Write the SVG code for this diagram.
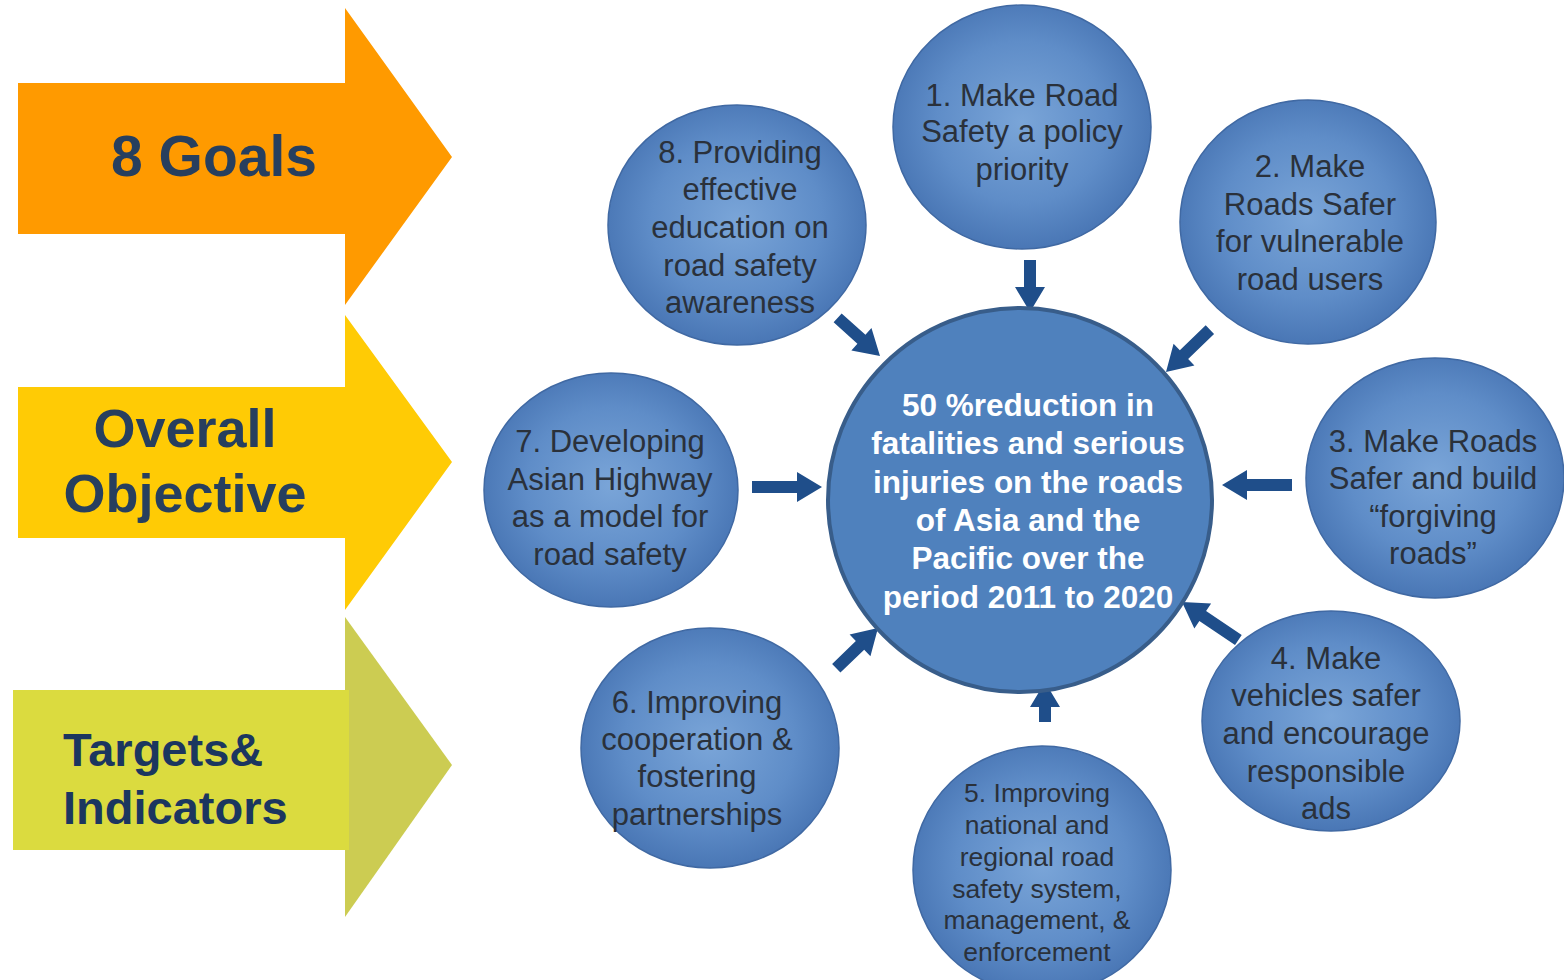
<svg xmlns="http://www.w3.org/2000/svg" width="1564" height="980" viewBox="0 0 1564 980">
<defs>
<radialGradient id="bub" cx="50%" cy="48%" r="55%">
<stop offset="0" stop-color="#7AA5D8"/>
<stop offset="0.6" stop-color="#5F8DC8"/>
<stop offset="1" stop-color="#4673B2"/>
</radialGradient>
<style>
.lbl{font-family:"Liberation Sans",Arial,sans-serif;font-weight:bold;}
.node ellipse{fill:url(#bub);stroke:#4069A3;stroke-width:1.5;}
.nt{font-family:"Liberation Sans",Arial,sans-serif;font-size:31px;fill:#2A313B;text-anchor:middle;}
.nt5{font-size:26.5px;}
.ct{font-family:"Liberation Sans",Arial,sans-serif;font-size:31.5px;font-weight:bold;fill:#FFFFFF;text-anchor:middle;}
.arr{fill:#1F4E8A;}
</style>
</defs>
<rect width="1564" height="980" fill="#FFFFFF"/>

<g id="goals">
<polygon points="18,83 345,83 345,8 452,157 345,305 345,234 18,234" fill="#FF9A00"/>
<text class="lbl" x="214" y="176" font-size="57" fill="#273F5E" text-anchor="middle">8 Goals</text>
</g>
<g id="objective">
<polygon points="18,387 345,387 345,315 452,462 345,610 345,538 18,538" fill="#FFCB05"/>
<text class="lbl" x="185" y="447" font-size="54" fill="#273F5E" text-anchor="middle">Overall</text>
<text class="lbl" x="185" y="512" font-size="54" fill="#273F5E" text-anchor="middle">Objective</text>
</g>
<g id="targets">
<polygon points="345,617 452,765 345,917" fill="#CCCC52"/>
<rect x="13" y="690" width="336" height="160" fill="#DBDB3F"/>
<text class="lbl" x="63" y="766" font-size="47" fill="#1B365F">Targets&amp;</text>
<text class="lbl" x="63" y="824" font-size="47" fill="#1B365F">Indicators</text>
</g>

<g id="connectors">
<polygon class="arr" transform="translate(1030,312) rotate(90)" points="0,0 -25,-15 -25,-6 -52,-6 -52,6 -25,6 -25,15"/>
<polygon class="arr" transform="translate(880,356) rotate(42)" points="0,0 -25,-15 -25,-6 -57,-6 -57,6 -25,6 -25,15"/>
<polygon class="arr" transform="translate(1166,372) rotate(136)" points="0,0 -25,-15 -25,-6 -61,-6 -61,6 -25,6 -25,15"/>
<polygon class="arr" transform="translate(822,487) rotate(0)" points="0,0 -25,-15 -25,-6 -70,-6 -70,6 -25,6 -25,15"/>
<polygon class="arr" transform="translate(1222,485) rotate(180)" points="0,0 -25,-15 -25,-6 -70,-6 -70,6 -25,6 -25,15"/>
<polygon class="arr" transform="translate(878,628) rotate(-44)" points="0,0 -25,-15 -25,-6 -58,-6 -58,6 -25,6 -25,15"/>
<polygon class="arr" transform="translate(1045,682) rotate(-90)" points="0,0 -25,-15 -25,-6 -40,-6 -40,6 -25,6 -25,15"/>
<polygon class="arr" transform="translate(1182,602) rotate(-146)" points="0,0 -25,-15 -25,-6 -68,-6 -68,6 -25,6 -25,15"/>
</g>

<g id="center">
<circle cx="1020" cy="500" r="192" fill="#4F81BD" stroke="#385D8A" stroke-width="4"/>
<text class="ct" x="1028" y="416">50 %reduction in</text>
<text class="ct" x="1028" y="454">fatalities and serious</text>
<text class="ct" x="1028" y="493">injuries on the roads</text>
<text class="ct" x="1028" y="531">of Asia and the</text>
<text class="ct" x="1028" y="569">Pacific over the</text>
<text class="ct" x="1028" y="608">period 2011 to 2020</text>
</g>

<g id="node1" class="node">
<ellipse cx="1022" cy="127" rx="129" ry="122"/>
<text class="nt" x="1022" y="106">1. Make Road</text>
<text class="nt" x="1022" y="142">Safety a policy</text>
<text class="nt" x="1022" y="180">priority</text>
</g>
<g id="node2" class="node">
<ellipse cx="1308" cy="222" rx="128" ry="122"/>
<text class="nt" x="1310" y="177">2. Make</text>
<text class="nt" x="1310" y="215">Roads Safer</text>
<text class="nt" x="1310" y="252">for vulnerable</text>
<text class="nt" x="1310" y="290">road users</text>
</g>
<g id="node3" class="node">
<ellipse cx="1435" cy="478" rx="129" ry="120"/>
<text class="nt" x="1433" y="452">3. Make Roads</text>
<text class="nt" x="1433" y="489">Safer and build</text>
<text class="nt" x="1433" y="527">“forgiving</text>
<text class="nt" x="1433" y="564">roads”</text>
</g>
<g id="node4" class="node">
<ellipse cx="1331" cy="721" rx="129" ry="110"/>
<text class="nt" x="1326" y="669">4. Make</text>
<text class="nt" x="1326" y="706">vehicles safer</text>
<text class="nt" x="1326" y="744">and encourage</text>
<text class="nt" x="1326" y="782">responsible</text>
<text class="nt" x="1326" y="819">ads</text>
</g>
<g id="node5" class="node">
<ellipse cx="1042" cy="870" rx="129" ry="124"/>
<text class="nt nt5" x="1037" y="802">5. Improving</text>
<text class="nt nt5" x="1037" y="834">national and</text>
<text class="nt nt5" x="1037" y="866">regional road</text>
<text class="nt nt5" x="1037" y="898">safety system,</text>
<text class="nt nt5" x="1037" y="929">management, &amp;</text>
<text class="nt nt5" x="1037" y="961">enforcement</text>
</g>
<g id="node6" class="node">
<ellipse cx="710" cy="748" rx="129" ry="120"/>
<text class="nt" x="697" y="713">6. Improving</text>
<text class="nt" x="697" y="750">cooperation &amp;</text>
<text class="nt" x="697" y="787">fostering</text>
<text class="nt" x="697" y="825">partnerships</text>
</g>
<g id="node7" class="node">
<ellipse cx="611" cy="490" rx="127" ry="117"/>
<text class="nt" x="610" y="452">7. Developing</text>
<text class="nt" x="610" y="490">Asian Highway</text>
<text class="nt" x="610" y="527">as a model for</text>
<text class="nt" x="610" y="565">road safety</text>
</g>
<g id="node8" class="node">
<ellipse cx="737" cy="225" rx="129" ry="120"/>
<text class="nt" x="740" y="163">8. Providing</text>
<text class="nt" x="740" y="200">effective</text>
<text class="nt" x="740" y="238">education on</text>
<text class="nt" x="740" y="276">road safety</text>
<text class="nt" x="740" y="313">awareness</text>
</g>
</svg>
